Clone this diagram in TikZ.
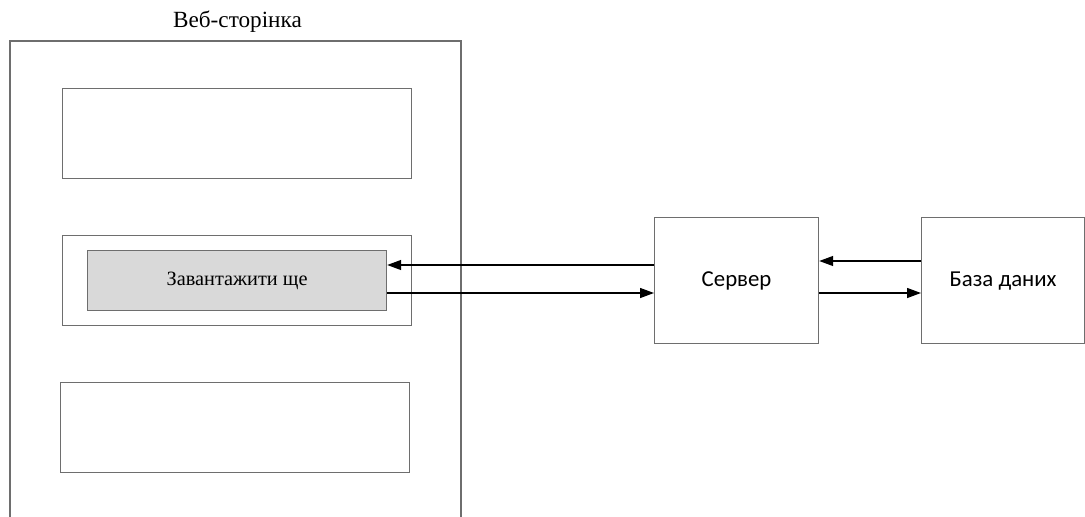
\documentclass[tikz,border=0pt]{standalone}
\usepackage{fontspec}
\setmainfont{Liberation Serif}
\newfontfamily\boxfont{Carlito}
\usetikzlibrary{arrows.meta}
\definecolor{framegray}{HTML}{6E6E6E}
\definecolor{btngray}{HTML}{D9D9D9}
\tikzset{
  block/.style={draw=framegray, line width=1.2pt, fill=white, inner sep=0pt, anchor=north west},
  btn/.style={draw=framegray, line width=1.2pt, fill=btngray, inner sep=0pt, anchor=north west, font=\fontsize{20.3}{22}\selectfont},
  srvbox/.style={draw=framegray, line width=1.2pt, fill=white, inner sep=0pt, anchor=north west, font=\boxfont\fontsize{22.8}{25}\selectfont},
  arr/.style={draw=black, line width=1.3pt, -{Triangle[length=14pt,width=10pt]}}
}
\begin{document}
\begin{tikzpicture}[x=1pt,y=-1pt]
\useasboundingbox (0,0) rectangle (1085,517);
% page frame, open at the bottom
\draw[framegray, line width=1.2pt] (10,517) -- (10,41) -- (461,41) -- (461,517);
\node[font=\fontsize{23.2}{26}\selectfont, anchor=base] (title) at (237.5,27) {Веб-сторінка};
% content blocks on the page
\node[block, minimum width=349pt, minimum height=90pt] (blk1) at (62,88) {};
\node[block, minimum width=349pt, minimum height=90pt] (blk2) at (62,235) {};
\node[btn, minimum width=299pt, minimum height=60pt] (btn) at (87,250) {Завантажити ще};
\node[block, minimum width=349pt, minimum height=90pt] (blk3) at (60,382) {};
% server and database
\node[srvbox, minimum width=164pt, minimum height=126pt] (srv) at (654,217) {Сервер};
\node[srvbox, minimum width=163pt, minimum height=126pt] (db) at (921,217) {База даних};
% requests and responses
\draw[arr] (srv.west |- 0,265) -- (btn.east |- 0,265);
\draw[arr] (btn.east |- 0,293) -- (srv.west |- 0,293);
\draw[arr] (db.west |- 0,261) -- (srv.east |- 0,261);
\draw[arr] (srv.east |- 0,293) -- (db.west |- 0,293);
\end{tikzpicture}
\end{document}
